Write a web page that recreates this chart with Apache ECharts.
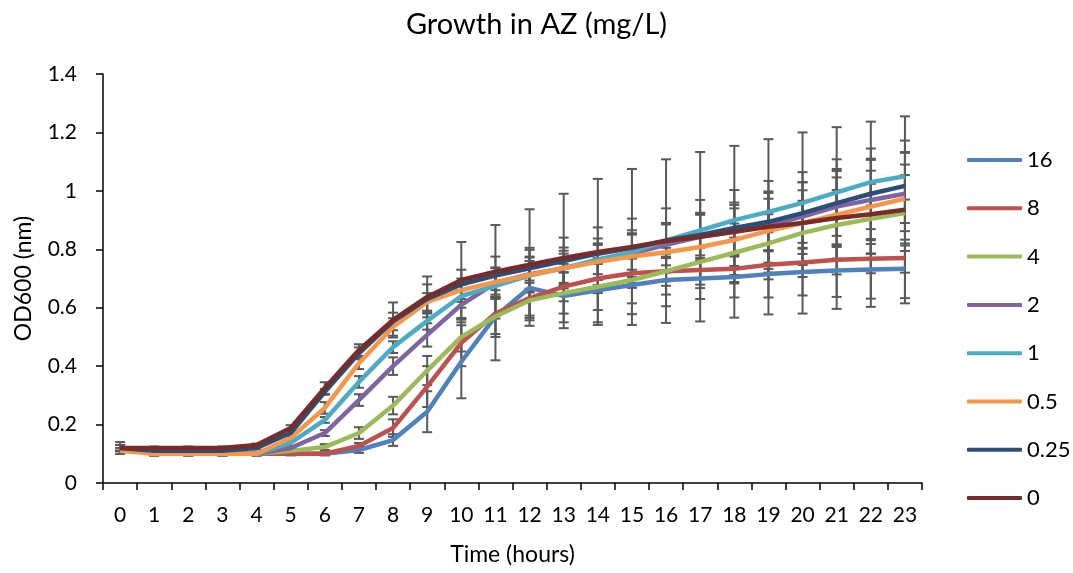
<!DOCTYPE html>
<html>
<head>
<meta charset="utf-8">
<script src="https://cdn.jsdelivr.net/npm/echarts@6/dist/echarts.min.js"></script>
<style>
  html, body { margin: 0; padding: 0; background: #fff; }
  #main { width: 1073px; height: 573px; }
</style>
</head>
<body>
<div id="main"></div>
<script>
// hours on the x axis
var hours = ['0','1','2','3','4','5','6','7','8','9','10','11','12','13','14','15','16','17','18','19','20','21','22','23'];
var seriesNames = ['16', '8', '4', '2', '1', '0.5', '0.25', '0'];
var seriesColors = ['#4F81BD', '#C0504D', '#9BBB59', '#8064A2', '#4BACC6', '#F79646', '#2C4D75', '#772C2A'];

// OD600 means, one array per AZ concentration (mg/L)
var od16   = [0.12,0.10,0.10,0.10,0.10,0.10,0.10,0.113,0.147,0.244,0.415,0.57,0.668,0.64,0.66,0.678,0.695,0.70,0.705,0.715,0.722,0.727,0.731,0.733];
var od8    = [0.12,0.10,0.10,0.10,0.10,0.10,0.10,0.127,0.188,0.33,0.48,0.58,0.633,0.672,0.70,0.718,0.725,0.729,0.733,0.747,0.755,0.764,0.768,0.77];
var od4    = [0.12,0.10,0.10,0.10,0.10,0.11,0.123,0.171,0.265,0.385,0.50,0.57,0.625,0.65,0.672,0.695,0.725,0.757,0.788,0.82,0.856,0.883,0.904,0.924];
var od2    = [0.12,0.10,0.10,0.10,0.10,0.12,0.171,0.284,0.40,0.507,0.61,0.685,0.715,0.735,0.76,0.785,0.815,0.843,0.86,0.883,0.912,0.946,0.969,0.99];
var od1    = [0.12,0.10,0.10,0.10,0.10,0.137,0.216,0.346,0.465,0.555,0.64,0.675,0.71,0.735,0.765,0.79,0.83,0.865,0.90,0.928,0.959,0.995,1.03,1.05];
var od05   = [0.11,0.10,0.10,0.10,0.10,0.154,0.257,0.41,0.534,0.62,0.66,0.688,0.712,0.736,0.757,0.775,0.79,0.808,0.832,0.863,0.89,0.918,0.946,0.973];
var od025  = [0.12,0.11,0.11,0.11,0.12,0.171,0.312,0.444,0.553,0.63,0.68,0.71,0.735,0.76,0.785,0.805,0.83,0.849,0.873,0.894,0.924,0.958,0.99,1.017];
var od0    = [0.12,0.12,0.12,0.12,0.13,0.188,0.325,0.455,0.558,0.637,0.695,0.723,0.747,0.77,0.791,0.808,0.828,0.843,0.86,0.877,0.89,0.907,0.92,0.935];

// error bar half lengths (sd), same order
var err16  = [0.01,0.005,0.005,0.005,0.005,0.005,0.005,0.01,0.02,0.07,0.125,0.15,0.13,0.11,0.11,0.10,0.09,0.07,0.07,0.08,0.08,0.09,0.10,0.10];
var err8   = [0.01,0.005,0.005,0.005,0.005,0.005,0.005,0.01,0.03,0.07,0.08,0.08,0.06,0.05,0.05,0.05,0.05,0.05,0.05,0.05,0.05,0.05,0.05,0.05];
var err4   = [0.01,0.005,0.005,0.005,0.005,0.005,0.01,0.02,0.03,0.05,0.05,0.06,0.06,0.07,0.08,0.08,0.08,0.09,0.10,0.10,0.11,0.12,0.12,0.13];
var err2   = [0.01,0.005,0.005,0.005,0.005,0.005,0.01,0.02,0.03,0.04,0.05,0.05,0.06,0.06,0.06,0.07,0.07,0.08,0.08,0.09,0.09,0.10,0.10,0.10];
var err1   = [0.01,0.005,0.005,0.005,0.005,0.01,0.01,0.02,0.02,0.03,0.04,0.04,0.05,0.05,0.05,0.06,0.06,0.06,0.06,0.07,0.07,0.08,0.08,0.08];
var err05  = [0.01,0.005,0.005,0.005,0.005,0.01,0.02,0.02,0.03,0.03,0.04,0.05,0.06,0.07,0.08,0.09,0.10,0.11,0.12,0.13,0.14,0.15,0.16,0.16];
var err025 = [0.01,0.005,0.005,0.005,0.005,0.01,0.01,0.02,0.03,0.05,0.05,0.065,0.07,0.08,0.09,0.10,0.11,0.12,0.13,0.14,0.14,0.15,0.155,0.155];
var err0   = [0.02,0.005,0.005,0.005,0.005,0.01,0.02,0.02,0.06,0.07,0.13,0.16,0.19,0.22,0.25,0.267,0.28,0.29,0.294,0.30,0.31,0.311,0.317,0.32];

var means = [od16, od8, od4, od2, od1, od05, od025, od0];
var errs = [err16, err8, err4, err2, err1, err05, err025, err0];

var FONT = 'Lato';

function errorRender(params, api) {
    var x = api.value(0);
    var lo = api.coord([x, api.value(1)]);
    var hi = api.coord([x, api.value(2)]);
    var half = 5;
    var st = { stroke: '#595959', lineWidth: 2 };
    return {
        type: 'group',
        children: [
            { type: 'line', shape: { x1: hi[0], y1: hi[1], x2: lo[0], y2: lo[1] }, style: st },
            { type: 'line', shape: { x1: hi[0] - half, y1: hi[1], x2: hi[0] + half, y2: hi[1] }, style: st },
            { type: 'line', shape: { x1: lo[0] - half, y1: lo[1], x2: lo[0] + half, y2: lo[1] }, style: st }
        ]
    };
}

var series = [];
seriesNames.forEach(function (name, k) {
    series.push({
        name: 'err-' + name,
        type: 'custom',
        renderItem: errorRender,
        encode: { x: 0, y: [1, 2] },
        data: means[k].map(function (v, i) { return [i, v - errs[k][i], v + errs[k][i]]; }),
        z: 1,
        silent: true
    });
});
seriesNames.forEach(function (name, k) {
    series.push({
        name: name,
        type: 'line',
        data: means[k],
        symbol: 'none',
        color: seriesColors[k],
        lineStyle: { width: 4.5, color: seriesColors[k] },
        z: 2
    });
});

var myChart = echarts.init(document.getElementById('main'));
var option = {
    animation: false,
    backgroundColor: '#ffffff',
    title: {
        text: 'Growth in AZ (mg/L)',
        left: 'center',
        top: 5,
        textStyle: { fontFamily: FONT, fontSize: 29, fontWeight: 'normal', color: '#000' }
    },
    legend: {
        data: seriesNames,
        orient: 'vertical',
        left: 962,
        top: 144,
        itemWidth: 55,
        itemHeight: 4,
        itemGap: 26.3,
        icon: 'roundRect',
        textStyle: { fontFamily: FONT, fontSize: 22, lineHeight: 22, color: '#000' }
    },
    grid: { left: 103, right: 151, top: 74, bottom: 90 },
    xAxis: {
        type: 'category',
        data: hours,
        boundaryGap: true,
        name: 'Time (hours)',
        nameLocation: 'middle',
        nameGap: 60,
        nameTextStyle: { fontFamily: FONT, fontSize: 23, color: '#000' },
        axisLine: { lineStyle: { color: '#000', width: 1.5 } },
        axisTick: { show: true, interval: 0, length: 7, lineStyle: { color: '#000', width: 1.5 } },
        axisLabel: { interval: 0, fontFamily: FONT, fontSize: 21, color: '#000', margin: 22 },
        splitLine: { show: false }
    },
    yAxis: {
        type: 'value',
        min: 0,
        max: 1.4,
        interval: 0.2,
        name: 'OD600 (nm)',
        nameLocation: 'middle',
        nameGap: 68,
        nameTextStyle: { fontFamily: FONT, fontSize: 23, color: '#000' },
        axisLine: { show: true, lineStyle: { color: '#000', width: 1.5 } },
        axisTick: { show: true, length: 7, lineStyle: { color: '#000', width: 1.5 } },
        axisLabel: { fontFamily: FONT, fontSize: 21, color: '#000', margin: 26 },
        splitLine: { show: false }
    },
    series: series
};
myChart.setOption(option);
</script>
</body>
</html>
